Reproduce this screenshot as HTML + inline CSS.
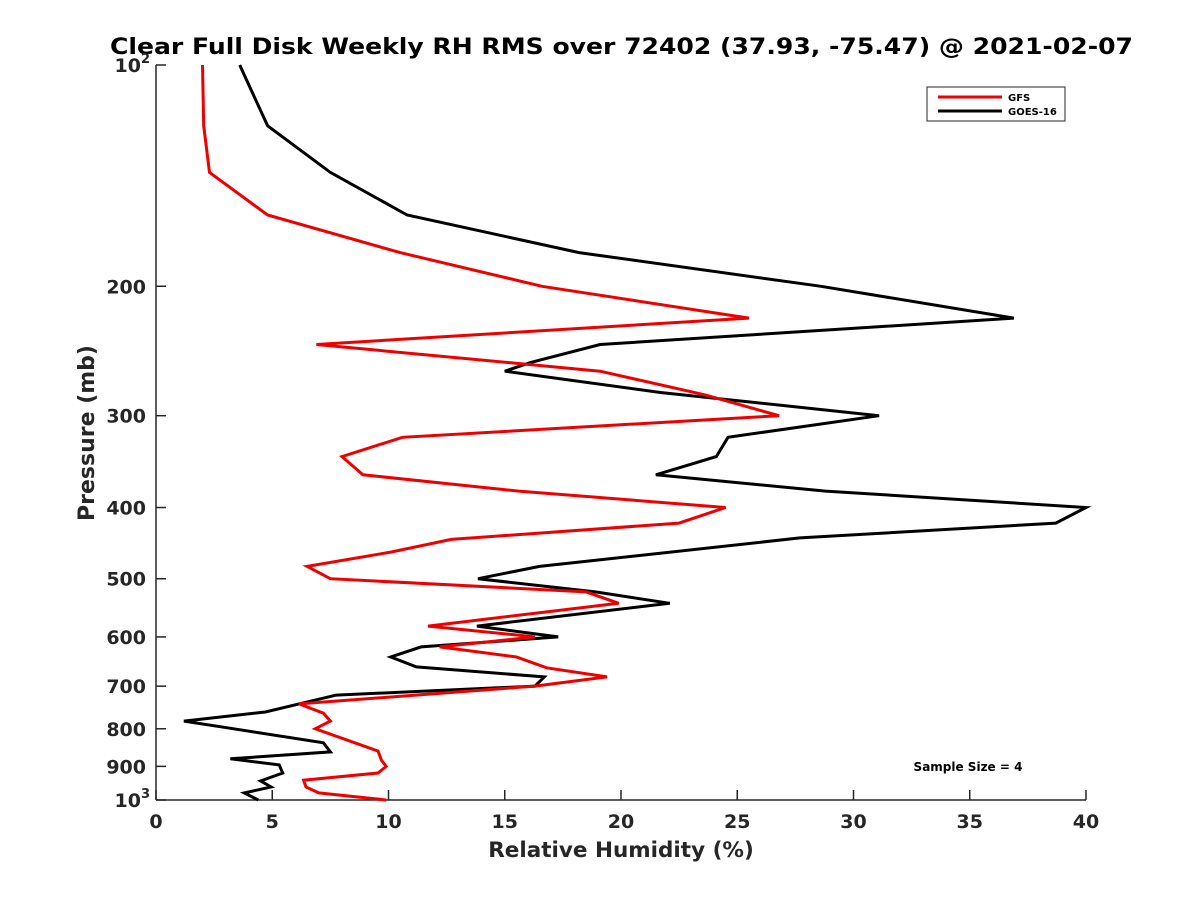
<!DOCTYPE html>
<html><head><meta charset="utf-8"><style>
body{margin:0;background:#fff}
svg text{font-family:"DejaVu Sans","Liberation Sans",sans-serif;font-weight:bold;fill:#262626}
</style></head><body>
<svg id="chart" width="1200" height="900" viewBox="0 0 1200 900" xmlns="http://www.w3.org/2000/svg">
<rect width="1200" height="900" fill="#fff"/>
<text x="110" y="54" font-size="22" textLength="1023" lengthAdjust="spacingAndGlyphs" style="fill:#000">Clear Full Disk Weekly RH RMS over 72402 (37.93, -75.47) @ 2021-02-07</text>
<g id="axes"></g>
<g id="series"></g>
<text x="621" y="857" text-anchor="middle" font-size="21.5">Relative Humidity (%)</text>
<text transform="translate(94,433) rotate(-90)" text-anchor="middle" font-size="22">Pressure (mb)</text>
<g>
<rect x="927" y="87" width="138" height="34" fill="#fff" stroke="#262626" stroke-width="1"/>
<line x1="938" y1="97" x2="1002" y2="97" stroke="#e00" stroke-width="3"/>
<text x="1008" y="101" font-size="10" style="fill:#000">GFS</text>
<line x1="938" y1="111" x2="1002" y2="111" stroke="#000" stroke-width="3"/>
<text x="1008" y="115" font-size="10" style="fill:#000">GOES-16</text>
</g>
<text x="968" y="771" text-anchor="middle" font-size="12" style="fill:#000">Sample Size = 4</text>
</svg>
<script>
const xTicks=[0,5,10,15,20,25,30,35,40];
const yTicks=[100,200,300,400,500,600,700,800,900,1000];
const gfsPressure=[100,121,140,160,180,200,221,240,261,281,300,321,341,361,380,400,420,442,460,481,500,521,540,580,600,619,639,661,680,700,740,762,781,800,858,883,900,919,940,960,978,1000];
const gfsRH=[2.0,2.05,2.3,4.8,10.5,16.6,25.5,6.9,19.1,23.6,26.8,10.6,8.0,8.9,15.6,24.5,22.5,12.7,10.1,6.5,7.5,18.5,19.9,11.7,16.3,12.2,15.5,16.8,19.4,16.3,6.15,7.2,7.5,6.85,9.55,9.7,9.9,9.55,6.35,6.45,7.0,9.9];
const goesPressure=[100,121,140,160,180,200,221,240,254,261,279,300,321,341,361,380,400,420,440,481,500,521,540,580,600,619,639,659,680,700,720,759,781,796,836,860,879,896,919,942,960,978,1000];
const goesRH=[3.6,4.8,7.5,10.8,18.2,28.6,36.9,19.1,16.1,15.0,21.7,31.1,24.6,24.1,21.5,28.8,40.0,38.7,27.7,16.5,13.85,18.9,22.1,13.8,17.3,11.4,10.1,11.2,16.7,16.3,7.75,4.7,1.2,2.9,7.2,7.5,3.2,5.3,5.45,4.5,4.95,3.8,4.4];
const X0=156,X1=1086,Y0=65,Y1=800;
const xs=v=>X0+(v-0)/(40-0)*(X1-X0);
const ys=p=>Y0+Math.log10(p/100)*(Y1-Y0);
const NS="http://www.w3.org/2000/svg";
const axes=document.getElementById('axes'),ser=document.getElementById('series');
function mk(t,a,parent){const e=document.createElementNS(NS,t);for(const k in a)e.setAttribute(k,a[k]);parent.appendChild(e);return e;}
const ya=mk('line',{x1:X0,y1:Y0,x2:X0,y2:Y1,stroke:'#262626','stroke-width':1.5},axes);


const xa=mk('line',{x1:X0,y1:Y1,x2:X1,y2:Y1,stroke:'#262626','stroke-width':1.5},axes);


xTicks.forEach(v=>{
  mk('line',{x1:xs(v),y1:Y1,x2:xs(v),y2:Y1-10,stroke:'#262626','stroke-width':1.5},axes);
  const t=mk('text',{x:xs(v),y:Y1+28,'text-anchor':'middle','font-size':19},axes);
  t.textContent=v;
  
  
});
yTicks.forEach(p=>{
  mk('line',{x1:X0,y1:ys(p),x2:X0+10,y2:ys(p),stroke:'#262626','stroke-width':1.5},axes);
  const t=mk('text',{x:X0-10,y:ys(p)+7,'text-anchor':'end','font-size':19},axes);
  if(p===100||p===1000){
    t.textContent='10';
    const s=mk('tspan',{dy:-9,'font-size':13},t);
    s.textContent=p===100?'2':'3';
    t.setAttribute('x',X0-6);
  } else t.textContent=p;
  
  
});
function line(P,V,color,name){
  const d=P.map((p,i)=>(i?'L':'M')+xs(V[i]).toFixed(1)+','+ys(p).toFixed(1)).join('');
  const e=mk('path',{d:d,fill:'none',stroke:color,'stroke-width':3,'stroke-linejoin':'miter'},ser);
  
  
}
line(goesPressure,goesRH,'#000','goes-16-line');
line(gfsPressure,gfsRH,'#e00','gfs-line');
</script>
</body></html>
